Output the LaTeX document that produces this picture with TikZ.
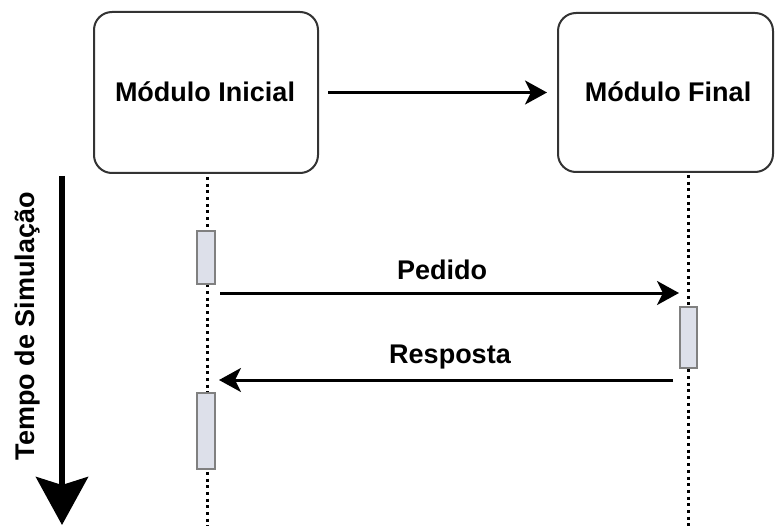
\documentclass[tikz,border=0pt]{standalone}
\usepackage{fontspec}
\setmainfont{Liberation Sans}
\usetikzlibrary{arrows.meta,calc}
\begin{document}
\begin{tikzpicture}[x=1pt,y=-1pt,
  lbl/.style={font=\fontsize{27}{30}\selectfont\bfseries, inner sep=0pt},
  module/.style={draw=black!80, line width=2pt, rounded corners=18pt, fill=white},
  actbox/.style={draw=black!50, line width=1.5pt, fill={rgb,255:red,221;green,224;blue,234}},
  lifeline/.style={line width=3pt, dash pattern=on 3pt off 3.7pt},
  msg/.style={line width=3pt, -{Stealth[length=22pt,width=24pt,inset=6pt]}},
]
\useasboundingbox (0,0) rectangle (775,526);
% modules
\node[module, minimum width=224pt, minimum height=161pt] (b1) at (206,92.5) {};
\node[lbl] at (205,92) {Módulo Inicial};
\node[module, minimum width=215pt, minimum height=159pt] (b2) at (665.5,92.5) {};
\node[lbl] at (668,92) {Módulo Final};
% lifelines
\coordinate (l1a) at (207,177);
\coordinate (l1b) at (207,526);
\coordinate (l2a) at (688,175);
\coordinate (l2b) at (688,526);
\draw[lifeline] (l1a) -- (l1b);
\draw[lifeline] (l2a) -- (l2b);
% activation boxes
\node[actbox, minimum width=18pt, minimum height=53pt, inner sep=0pt] (a1) at (206,257.5) {};
\node[actbox, minimum width=18pt, minimum height=76pt, inner sep=0pt] (a2) at (206,431) {};
\node[actbox, minimum width=17pt, minimum height=61pt, inner sep=0pt] (a3) at (688.5,337.5) {};
% top arrow
\draw[msg, shorten <=9pt, shorten >=10pt] (b1.east) -- (b1.east -| b2.west);
% messages
\coordinate (p1) at (220,293);
\coordinate (p2) at (679,293);
\coordinate (r1) at (673,380);
\coordinate (r2) at (219,380);
\draw[msg] (p1) -- (p2);
\draw[msg] (r1) -- (r2);
\node[lbl] (ped) at (442,270) {Pedido};
\node[lbl] (resp) at (450,357) {Resposta};
% time arrow
\coordinate (t1) at (62,176);
\coordinate (t2) at (62,525);
\draw[line width=6pt, -{Stealth[length=48pt,width=52pt,inset=8pt]}] (t1) -- (t2);
\node[lbl, rotate=90] (tempo) at (28,326) {Tempo de Simulação};
\end{tikzpicture}
\end{document}
